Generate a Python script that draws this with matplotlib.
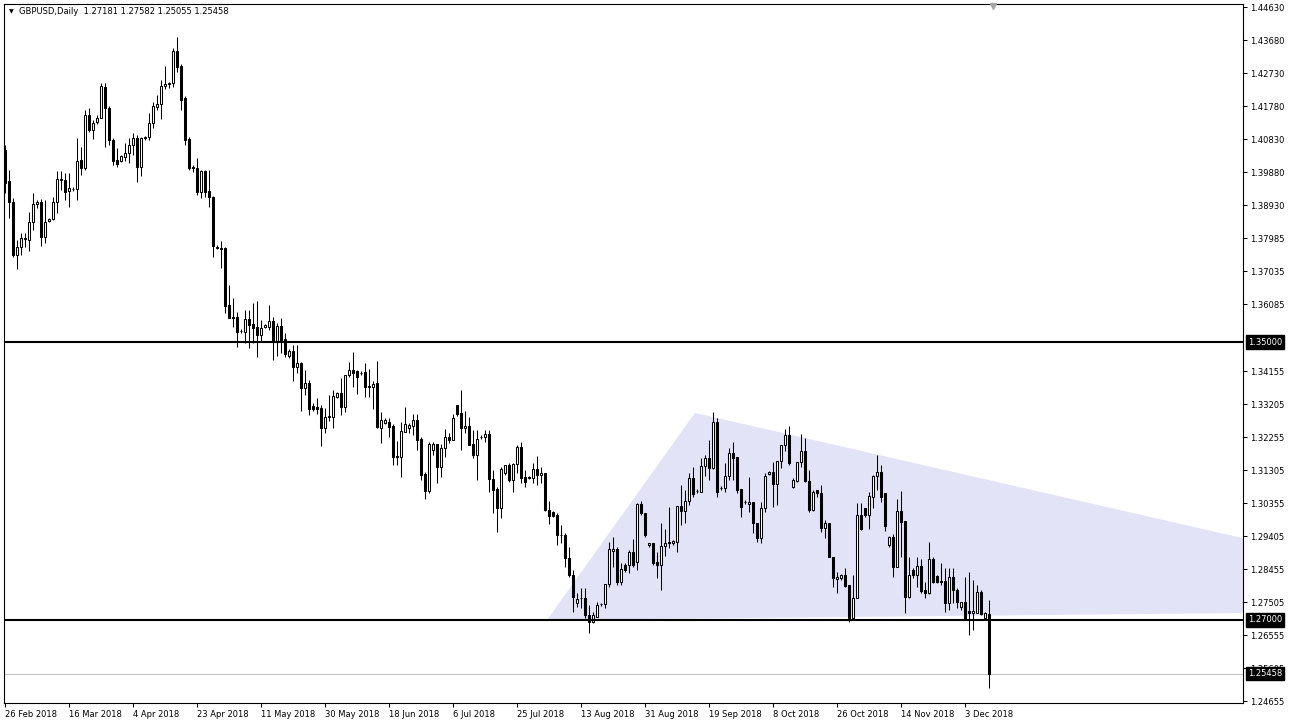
import matplotlib
matplotlib.use('Agg')
import matplotlib.pyplot as plt
import matplotlib.transforms as mtransforms
from matplotlib.patches import Polygon
import numpy as np

# ---------------- data (GBPUSD daily) ----------------
opens = [
 1.4053,1.3963,1.3903,1.3750,1.3773,1.3797,1.3794,1.3845,1.3897,1.3903,
 1.3802,1.3848,1.3854,1.3903,1.3969,1.3966,1.3935,1.3940,1.3940,1.4024,
 1.4001,1.4153,1.4110,1.4133,1.4145,1.4234,1.4173,1.4081,1.4024,1.4021,
 1.4032,1.4044,1.4067,1.4087,1.4004,1.4087,1.4090,1.4130,1.4176,1.4185,
 1.4237,1.4243,1.4245,1.4338,1.4294,1.4202,1.4084,1.4004,1.4001,1.3932,
 1.3992,1.3935,1.3917,1.3773,1.3771,1.3771,1.3607,1.3572,1.3572,1.3532,
 1.3529,1.3566,1.3552,1.3543,1.3520,1.3543,1.3543,1.3560,1.3500,1.3546,
 1.3509,1.3460,1.3474,1.3428,1.3440,1.3368,1.3382,1.3316,1.3313,1.3310,
 1.3253,1.3284,1.3284,1.3342,1.3353,1.3313,1.3405,1.3419,1.3417,1.3411,
 1.3414,1.3373,1.3370,1.3382,1.3253,1.3267,1.3270,1.3258,1.3172,1.3169,
 1.3241,1.3253,1.3258,1.3276,1.3221,1.3120,1.3071,1.3190,1.3207,1.3140,
 1.3195,1.3227,1.3218,1.3319,1.3296,1.3253,1.3258,1.3207,1.3175,1.3227,
 1.3227,1.3235,1.3106,1.3077,1.3022,1.3123,1.3146,1.3103,1.3149,1.3198,
 1.3112,1.3112,1.3109,1.3135,1.3117,1.3123,1.3017,1.3011,1.3002,1.2945,
 1.2945,1.2878,1.2829,1.2749,1.2763,1.2763,1.2714,1.2694,1.2709,1.2746,
 1.2746,1.2804,1.2899,1.2904,1.2809,1.2858,1.2858,1.2896,1.2867,1.3034,
 1.3008,1.2916,1.2922,1.2867,1.2858,1.2913,1.2924,1.2922,1.2924,1.3028,
 1.3014,1.3042,1.3109,1.3071,1.3068,1.3143,1.3166,1.3137,1.3270,1.3080,
 1.3080,1.3114,1.3181,1.3169,1.3077,1.3040,1.3034,1.3040,1.2979,1.2936,
 1.3022,1.3120,1.3126,1.3091,1.3158,1.3204,1.3232,1.3083,1.3100,1.3155,
 1.3186,1.3100,1.3017,1.3074,1.3066,1.2965,1.2979,1.2881,1.2818,1.2821,
 1.2829,1.2801,1.2706,1.2763,1.3002,1.3022,1.3002,1.3054,1.3114,1.3126,
 1.3066,1.2916,1.2939,1.2853,1.3014,1.2985,1.2766,1.2844,1.2829,1.2855,
 1.2786,1.2778,1.2876,1.2827,1.2812,1.2812,1.2750,1.2824,1.2786,1.2737,
 1.2752,1.2726,1.2720,1.2720,1.2780,1.2706,1.27181]
highs = [
 1.4067,1.3995,1.3915,1.3794,1.3814,1.3814,1.3874,1.3929,1.3909,1.3912,
 1.3909,1.3857,1.3917,1.3992,1.3992,1.3986,1.3986,1.3946,1.4087,1.4061,
 1.4168,1.4173,1.4139,1.4153,1.4245,1.4245,1.4179,1.4087,1.4058,1.4038,
 1.4073,1.4087,1.4102,1.4096,1.4090,1.4093,1.4159,1.4191,1.4211,1.4254,
 1.4294,1.4248,1.4346,1.4378,1.4300,1.4208,1.4090,1.4009,1.4030,1.3995,
 1.3995,1.3995,1.3919,1.3779,1.3791,1.3773,1.3664,1.3627,1.3586,1.3537,
 1.3592,1.3592,1.3612,1.3618,1.3563,1.3552,1.3607,1.3572,1.3555,1.3569,
 1.3526,1.3480,1.3491,1.3491,1.3442,1.3419,1.3391,1.3324,1.3339,1.3319,
 1.3310,1.3348,1.3362,1.3356,1.3396,1.3405,1.3442,1.3471,1.3419,1.3417,
 1.3440,1.3422,1.3388,1.3445,1.3299,1.3281,1.3281,1.3264,1.3215,1.3270,
 1.3313,1.3267,1.3293,1.3293,1.3227,1.3126,1.3212,1.3212,1.3207,1.3207,
 1.3250,1.3238,1.3293,1.3319,1.3362,1.3301,1.3284,1.3247,1.3247,1.3232,
 1.3247,1.3247,1.3132,1.3083,1.3140,1.3146,1.3152,1.3152,1.3204,1.3212,
 1.3132,1.3114,1.3152,1.3172,1.3140,1.3123,1.3042,1.3014,1.3008,1.2973,
 1.2950,1.2910,1.2844,1.2778,1.2792,1.2792,1.2743,1.2723,1.2752,1.2749,
 1.2804,1.2924,1.2939,1.2910,1.2864,1.2864,1.2901,1.2933,1.3037,1.3042,
 1.3008,1.2922,1.2922,1.2896,1.2979,1.2962,1.3025,1.2930,1.3028,1.3089,
 1.3074,1.3123,1.3140,1.3077,1.3166,1.3175,1.3218,1.3299,1.3281,1.3086,
 1.3152,1.3195,1.3212,1.3169,1.3077,1.3045,1.3112,1.3040,1.2979,1.3040,
 1.3123,1.3129,1.3155,1.3158,1.3204,1.3250,1.3258,1.3109,1.3155,1.3235,
 1.3224,1.3132,1.3074,1.3074,1.3089,1.2988,1.2979,1.2881,1.2838,1.2832,
 1.2850,1.2801,1.2829,1.3037,1.3037,1.3022,1.3068,1.3117,1.3175,1.3146,
 1.3066,1.2942,1.2948,1.3048,1.3071,1.2985,1.2881,1.2850,1.2881,1.2876,
 1.2809,1.2924,1.2881,1.2829,1.2864,1.2850,1.2850,1.2850,1.2792,1.2752,
 1.2824,1.2838,1.2815,1.2801,1.2786,1.2722,1.27582]
lows = [
 1.3929,1.3857,1.3745,1.3710,1.3750,1.3773,1.3762,1.3822,1.3886,1.3776,
 1.3785,1.3845,1.3851,1.3871,1.3938,1.3909,1.3889,1.3935,1.3909,1.3981,
 1.3995,1.4104,1.4084,1.4127,1.4145,1.4061,1.4067,1.4009,1.4004,1.4018,
 1.4021,1.4015,1.4038,1.3961,1.3978,1.4081,1.4081,1.4116,1.4168,1.4142,
 1.4228,1.4231,1.4234,1.4277,1.4168,1.4067,1.3995,1.3989,1.3923,1.3915,
 1.3917,1.3889,1.3745,1.3768,1.3713,1.3584,1.3569,1.3543,1.3486,1.3526,
 1.3497,1.3483,1.3497,1.3457,1.3500,1.3540,1.3535,1.3448,1.3460,1.3468,
 1.3457,1.3454,1.3388,1.3411,1.3301,1.3347,1.3290,1.3301,1.3293,1.3201,
 1.3238,1.3273,1.3253,1.3339,1.3290,1.3299,1.3399,1.3370,1.3350,1.3405,
 1.3342,1.3342,1.3307,1.3253,1.3209,1.3264,1.3227,1.3146,1.3146,1.3112,
 1.3241,1.3238,1.3232,1.3189,1.3103,1.3048,1.3066,1.3175,1.3094,1.3112,
 1.3169,1.3209,1.3218,1.3287,1.3189,1.3238,1.3204,1.3166,1.3103,1.3221,
 1.3212,1.3068,1.3008,1.2953,1.2994,1.3117,1.3097,1.3068,1.3123,1.3094,
 1.3083,1.3106,1.3094,1.3088,1.3094,1.3014,1.2976,1.2996,1.2916,1.2922,
 1.2853,1.2824,1.2723,1.2737,1.2735,1.2706,1.2662,1.2691,1.2709,1.2740,
 1.2735,1.2795,1.2853,1.2801,1.2801,1.2838,1.2835,1.2853,1.2844,1.3002,
 1.2939,1.2910,1.2858,1.2821,1.2786,1.2884,1.2907,1.2916,1.2896,1.2973,
 1.2979,1.3031,1.3054,1.3066,1.3068,1.3114,1.3103,1.3135,1.3054,1.3074,
 1.3068,1.3103,1.3103,1.3066,1.2996,1.3034,1.3011,1.2950,1.2924,1.2922,
 1.3011,1.3117,1.3025,1.3031,1.3137,1.3186,1.3146,1.3080,1.3097,1.3140,
 1.3097,1.3011,1.3014,1.3054,1.2953,1.2936,1.2881,1.2795,1.2778,1.2815,
 1.2795,1.2694,1.2706,1.2763,1.2959,1.2996,1.2962,1.3022,1.3074,1.3040,
 1.2956,1.2910,1.2824,1.2853,1.2881,1.2720,1.2763,1.2821,1.2795,1.2778,
 1.2763,1.2775,1.2806,1.2806,1.2801,1.2723,1.2729,1.2749,1.2735,1.2729,
 1.2703,1.2657,1.2671,1.2720,1.2714,1.2703,1.25055]
closes = [
 1.3958,1.3903,1.3750,1.3773,1.3799,1.3798,1.3845,1.3897,1.3903,1.3802,
 1.3845,1.3854,1.3903,1.3969,1.3966,1.3932,1.3943,1.3941,1.4021,1.4001,
 1.4153,1.4110,1.4130,1.4145,1.4237,1.4173,1.4081,1.4021,1.4012,1.4035,
 1.4044,1.4067,1.4087,1.4004,1.4087,1.4090,1.4130,1.4179,1.4185,1.4237,
 1.4243,1.4245,1.4338,1.4292,1.4197,1.4081,1.4001,1.4001,1.3932,1.3992,
 1.3932,1.3917,1.3776,1.3771,1.3768,1.3604,1.3569,1.3569,1.3529,1.3531,
 1.3566,1.3549,1.3540,1.3520,1.3540,1.3549,1.3560,1.3500,1.3546,1.3506,
 1.3465,1.3474,1.3428,1.3440,1.3368,1.3382,1.3307,1.3307,1.3307,1.3253,
 1.3284,1.3287,1.3345,1.3353,1.3313,1.3405,1.3419,1.3411,1.3399,1.3412,
 1.3370,1.3370,1.3379,1.3255,1.3276,1.3276,1.3255,1.3169,1.3169,1.3244,
 1.3264,1.3261,1.3276,1.3218,1.3117,1.3071,1.3207,1.3207,1.3140,1.3195,
 1.3227,1.3218,1.3281,1.3293,1.3253,1.3258,1.3204,1.3175,1.3221,1.3228,
 1.3235,1.3106,1.3074,1.3022,1.3135,1.3146,1.3103,1.3149,1.3198,1.3109,
 1.3097,1.3109,1.3135,1.3117,1.3123,1.3017,1.2999,1.2999,1.2945,1.2944,
 1.2878,1.2829,1.2766,1.2760,1.2764,1.2714,1.2694,1.2714,1.2743,1.2746,
 1.2804,1.2904,1.2904,1.2809,1.2847,1.2844,1.2896,1.2858,1.3034,1.3008,
 1.2945,1.2922,1.2864,1.2858,1.2913,1.2922,1.2922,1.2927,1.3028,1.3014,
 1.3042,1.3109,1.3063,1.3071,1.3143,1.3166,1.3137,1.3270,1.3068,1.3080,
 1.3114,1.3181,1.3166,1.3074,1.3025,1.3040,1.3040,1.2979,1.2936,1.3022,
 1.3114,1.3126,1.3091,1.3158,1.3204,1.3232,1.3152,1.3103,1.3155,1.3186,
 1.3100,1.3017,1.3068,1.3066,1.2965,1.2979,1.2881,1.2821,1.2824,1.2829,
 1.2798,1.2706,1.2763,1.3002,1.2962,1.3002,1.3057,1.3114,1.3126,1.3054,
 1.2970,1.2939,1.2853,1.3014,1.2982,1.2766,1.2829,1.2829,1.2855,1.2783,
 1.2778,1.2876,1.2809,1.2809,1.2809,1.2750,1.2824,1.2786,1.2752,1.2752,
 1.2703,1.2720,1.2726,1.2780,1.2717,1.2720,1.25458]

date_labels = ['26 Feb 2018', '16 Mar 2018', '4 Apr 2018', '23 Apr 2018',
               '11 May 2018', '30 May 2018', '18 Jun 2018', '6 Jul 2018',
               '25 Jul 2018', '13 Aug 2018', '31 Aug 2018', '19 Sep 2018',
               '8 Oct 2018', '26 Oct 2018', '14 Nov 2018', '3 Dec 2018']
label_step = 16

price_ticks = [1.44630, 1.43680, 1.42730, 1.41780, 1.40830, 1.39880, 1.38930,
               1.37985, 1.37035, 1.36085, 1.34155, 1.33205, 1.32255, 1.31305,
               1.30355, 1.29405, 1.28455, 1.27505, 1.26555, 1.25605, 1.24655]

support_levels = [1.35000, 1.27000]
bid_price = 1.25458
title_text = 'GBPUSD,Daily  1.27181 1.27582 1.25055 1.25458'

# triangle object (bar index, price)
tri_bars = [135.5, 172.5, 388.0]
tri_prices = [1.2700, 1.3296, 1.2729]

# ---------------- figure ----------------
W, H = 1289, 727
fig = plt.figure(figsize=(W / 100, H / 100), dpi=100)
fig.patch.set_facecolor('white')
L, R, T, B = 4, 1243, 4, 703
ax = fig.add_axes([L / W, 1 - B / H, (R - L) / W, (B - T) / H])
ax.set_facecolor('white')

o = np.array(opens); h = np.array(highs); l = np.array(lows); c = np.array(closes)
n = len(o)
x = np.arange(n)

ax.set_xlim(-0.25, 309.5)
ax.set_ylim(1.24611, 1.44728)

# triangle (background object)
poly = Polygon(list(zip(tri_bars, tri_prices)), closed=True, facecolor='#E3E3F8',
               edgecolor='none', zorder=1)
ax.add_patch(poly)

# bid line
ax.axhline(bid_price, color='#C0C0C0', lw=0.75, zorder=1.5)

# candles
up = c >= o
bottom = np.minimum(o, c)
height = np.abs(c - o)
ax.vlines(x, l, h, color='black', lw=0.75, zorder=3)
ax.bar(x[up], height[up], bottom=bottom[up], width=0.5, color='white',
       edgecolor='black', linewidth=0.75, zorder=4)
ax.bar(x[~up], height[~up], bottom=bottom[~up], width=0.5, color='black',
       edgecolor='black', linewidth=0.75, zorder=4)

# horizontal levels
for lv in support_levels:
    ax.axhline(lv, color='black', lw=1.5, zorder=5)

# axes styling
for s in ax.spines.values():
    s.set_color('black')
    s.set_linewidth(0.8)

ax.yaxis.tick_right()
ax.set_yticks(price_ticks)
ax.set_yticklabels(['%.5f' % v for v in price_ticks])
ax.tick_params(axis='y', direction='out', length=3, width=0.75, pad=2,
               labelsize=6, colors='black')

xt = np.arange(0, len(date_labels) * label_step, label_step)
ax.set_xticks(xt)
ax.set_xticklabels(date_labels)
ax.tick_params(axis='x', direction='out', length=3, width=0.75, pad=2,
               labelsize=6, colors='black')
for lbl in ax.get_xticklabels():
    lbl.set_horizontalalignment('left')

# boxed price labels
for lv in support_levels + [bid_price]:
    ax.annotate('%.5f' % lv, xy=(1, lv), xycoords=('axes fraction', 'data'),
                xytext=(5, 0), textcoords='offset pixels', ha='left', va='center',
                fontsize=6, color='white', zorder=10, annotation_clip=False,
                bbox=dict(boxstyle='square,pad=0.25', fc='black', ec='black'))

# title
fig.text(9 / W, 1 - 12 / H, '\u25BC', fontsize=4.5, ha='left', va='center')
fig.text(19 / W, 1 - 12 / H, title_text, fontsize=6, ha='left', va='center')

# shift marker
trans = mtransforms.blended_transform_factory(ax.transData, ax.transAxes)
ax.plot([247], [0.997], marker='v', color='#A8A8A8', ms=5, transform=trans,
        clip_on=False, zorder=10)

fig.savefig('out.png', dpi=100)
